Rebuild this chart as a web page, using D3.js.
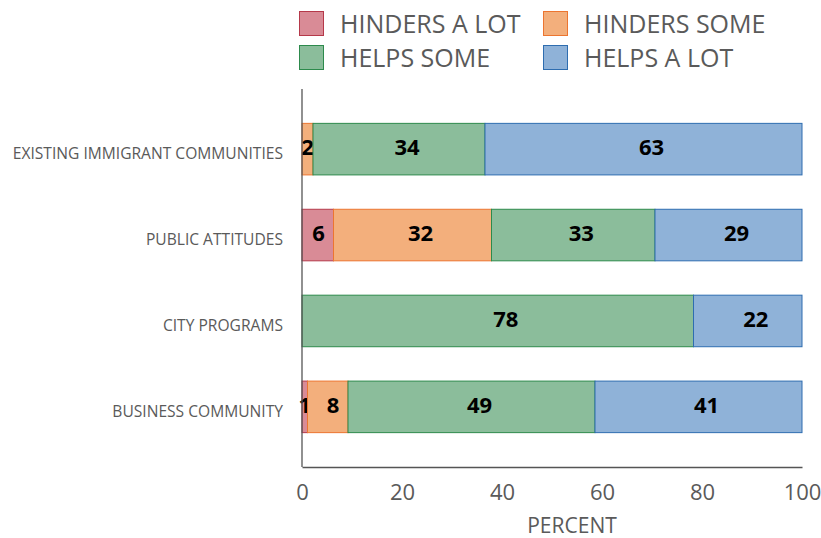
<!DOCTYPE html>
<html>
<head>
<meta charset="utf-8">
<script src="https://cdn.jsdelivr.net/npm/d3@7"></script>
<style>
  body { margin: 0; background: #fff; }
  text { font-family: "Open Sans", "Noto Sans", sans-serif; }
</style>
</head>
<body>
<div id="chart"></div>
<script>
var categories = ["EXISTING IMMIGRANT COMMUNITIES", "PUBLIC ATTITUDES", "CITY PROGRAMS", "BUSINESS COMMUNITY"];
var seriesNames = ["HINDERS A LOT", "HINDERS SOME", "HELPS SOME", "HELPS A LOT"];
var hindersALot = [0, 6.3, 0, 1.1];
var hindersSome = [2.2, 31.6, 0, 8.1];
var helpsSome = [34.4, 32.7, 78.3, 49.4];
var helpsALot = [63.4, 29.4, 21.7, 41.4];
var xTicks = [0, 20, 40, 60, 80, 100];

var fills = ["#d98b96", "#f3af7c", "#8bbd9b", "#8fb2d8"],
    strokes = ["#b5394a", "#ec7530", "#2d8a4c", "#2e6db0"];

var chartWidth = 821, chartHeight = 538,
    margin = {top: 89, right: 19, bottom: 71, left: 302},
    width = chartWidth - margin.left - margin.right,
    height = chartHeight - margin.top - margin.bottom;

var svg = d3.select("#chart").append("svg")
    .attr("width", chartWidth)
    .attr("height", chartHeight);

var rows = categories.map(function(c, i) {
  return {cat: c, v0: hindersALot[i], v1: hindersSome[i], v2: helpsSome[i], v3: helpsALot[i]};
});
var stack = d3.stack().keys(["v0", "v1", "v2", "v3"])(rows);

var x = d3.scaleLinear().domain([0, 100]).range([0, width]);
var y = d3.scaleBand().domain(categories).range([0, height])
    .paddingInner(0.4).paddingOuter(0.4);

var g = svg.append("g")
    .attr("transform", "translate(" + margin.left + "," + margin.top + ")");

// bars
var layers = g.selectAll(".layer")
  .data(stack)
  .enter().append("g")
    .attr("class", "layer")
    .attr("fill", function(d, i) { return fills[i]; })
    .attr("stroke", function(d, i) { return strokes[i]; });

layers.selectAll("rect")
  .data(function(d) { return d.filter(function(s) { return s[1] - s[0] > 0; }); })
  .enter().append("rect")
    .attr("x", function(d) { return x(d[0]); })
    .attr("y", function(d) { return y(d.data.cat); })
    .attr("width", function(d) { return x(d[1]) - x(d[0]); })
    .attr("height", y.bandwidth())
    .attr("stroke-width", 1);

// value labels
layers.selectAll("text")
  .data(function(d) { return d.filter(function(s) { return s[1] - s[0] > 0; }); })
  .enter().append("text")
    .attr("x", function(d) {
      var w = x(d[1]) - x(d[0]);
      return (x(d[0]) + x(d[1])) / 2 + Math.min(8, Math.max(0, (w - 30) / 2));
    })
    .attr("y", function(d) { return y(d.data.cat) + y.bandwidth() / 2 + 6; })
    .attr("text-anchor", "middle")
    .attr("stroke", "none")
    .attr("fill", "#000")
    .style("font-size", "22px")
    .style("font-weight", "bold")
    .text(function(d) { return Math.round(d[1] - d[0]); });

// y axis line + category labels
g.append("line")
  .attr("x1", 0).attr("x2", 0)
  .attr("y1", 0).attr("y2", height)
  .attr("stroke", "#555").attr("stroke-width", 1.3);

g.selectAll(".cat")
  .data(categories)
  .enter().append("text")
    .attr("class", "cat")
    .attr("x", -19)
    .attr("y", function(d) { return y(d) + y.bandwidth() / 2 + 10; })
    .attr("text-anchor", "end")
    .attr("fill", "#5a5a5a")
    .style("font-size", "15.6px")
    .text(function(d) { return d; });

// x axis
var xAxis = g.append("g")
    .attr("transform", "translate(0," + height + ")")
    .call(d3.axisBottom(x).tickValues(xTicks).tickSize(0).tickPadding(17));
xAxis.select(".domain").attr("stroke", "#555").attr("stroke-width", 1.3);
xAxis.selectAll("text")
    .attr("fill", "#5a5a5a")
    .style("font-size", "22px")
    .style("font-family", "'Open Sans', sans-serif");

g.append("text")
  .attr("x", width / 2 + 20)
  .attr("y", height + 66)
  .attr("text-anchor", "middle")
  .attr("fill", "#5a5a5a")
  .style("font-size", "21px")
  .text("PERCENT");

// legend
var legend = svg.selectAll(".legend")
  .data(seriesNames)
  .enter().append("g")
    .attr("class", "legend")
    .attr("transform", function(d, i) {
      return "translate(" + (299 + (i % 2) * 244) + "," + (11 + Math.floor(i / 2) * 34) + ")";
    });

legend.append("rect")
  .attr("x", 0.5).attr("y", 0.5)
  .attr("width", 24).attr("height", 24)
  .attr("fill", function(d, i) { return fills[i]; })
  .attr("stroke", function(d, i) { return strokes[i]; });

legend.append("text")
  .attr("x", 41)
  .attr("y", 22)
  .attr("fill", "#5a5a5a")
  .style("font-size", "25px")
  .text(function(d) { return d; });
</script>
</body>
</html>
